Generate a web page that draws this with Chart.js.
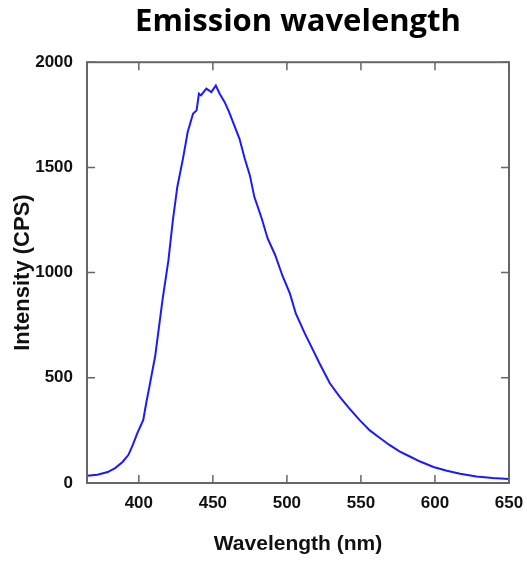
<!DOCTYPE html>
<html>
<head>
<meta charset="utf-8">
<script src="https://cdn.jsdelivr.net/npm/chart.js@4.4.1/dist/chart.umd.min.js"></script>
<style>
html,body{margin:0;padding:0;background:#fff;}
#wrap{width:527px;height:563px;}
</style>
</head>
<body>
<div id="wrap"><canvas id="c" width="527" height="563"></canvas></div>
<script>
const chartTitle = "Emission wavelength";
const xTitle = "Wavelength (nm)";
const yTitle = "Intensity (CPS)";
const xTicks = [400, 450, 500, 550, 600, 650];
const yTicks = [0, 500, 1000, 1500, 2000];
const wavelength = [365, 372, 379, 384, 389, 393, 396, 399, 403, 405, 407, 408, 411, 416, 420, 423, 426, 430, 433, 436.6, 439, 440.6, 442, 445.6, 449, 452, 454.6, 458, 461, 463.6, 468, 471.5, 475, 478, 483, 487, 492, 497, 502, 506, 512, 516.5, 522, 529, 535.6, 542, 549, 556, 562.6, 569, 576, 583, 590, 599, 608, 617, 628, 639, 650];
const intensity = [35, 39, 52, 71, 100, 134, 182, 237, 300, 380, 452, 490, 601, 870, 1059, 1249, 1407, 1549, 1668, 1755, 1771, 1850, 1842, 1874, 1858, 1889, 1850, 1810, 1763, 1715, 1636, 1542, 1462, 1360, 1257, 1162, 1085, 985, 901, 806, 712, 648, 569, 474, 411, 356, 300, 250, 215, 182, 150, 126, 102, 76, 58, 44, 31, 24, 19];

const points = wavelength.map((w, i) => ({x: w, y: intensity[i]}));
const ARIAL = "'Liberation Sans', Arial, sans-serif";

const framePlugin = {
  id: 'frame',
  afterDatasetsDraw(chart) {
    const {ctx, chartArea: a, scales} = chart;
    ctx.save();
    ctx.strokeStyle = '#666';
    ctx.lineWidth = 2;
    ctx.strokeRect(a.left, a.top, a.right - a.left, a.bottom - a.top);
    ctx.lineWidth = 1.5;
    const L = 8;
    ctx.beginPath();
    xTicks.forEach(v => {
      const px = scales.x.getPixelForValue(v);
      ctx.moveTo(px, a.bottom); ctx.lineTo(px, a.bottom - L);
      ctx.moveTo(px, a.top); ctx.lineTo(px, a.top + L);
    });
    yTicks.forEach(v => {
      const py = scales.y.getPixelForValue(v);
      ctx.moveTo(a.left, py); ctx.lineTo(a.left + L, py);
      ctx.moveTo(a.right, py); ctx.lineTo(a.right - L, py);
    });
    ctx.stroke();
    ctx.restore();
  }
};

new Chart(document.getElementById('c'), {
  type: 'line',
  data: {
    datasets: [{
      data: points,
      borderColor: '#1a1aff',
      borderWidth: 2,
      pointRadius: 0,
      tension: 0,
      fill: false
    }]
  },
  options: {
    responsive: false,
    animation: false,
    layout: {padding: {left: 0, right: 18, top: 0, bottom: 0}},
    plugins: {
      legend: {display: false},
      tooltip: {enabled: false},
      title: {
        display: true,
        text: chartTitle,
        fullSize: false,
        color: '#000',
        font: {family: "'Open Sans', sans-serif", size: 31, weight: 'bold', lineHeight: 1.2},
        padding: {top: 4, bottom: 21}
      }
    },
    scales: {
      x: {
        type: 'linear',
        min: 365,
        max: 650,
        afterBuildTicks: s => { s.ticks = xTicks.map(v => ({value: v})); },
        afterFit: s => { s.height = 80; s.paddingLeft = 0; s.paddingRight = 0; },
        grid: {display: false, drawTicks: false},
        border: {display: false},
        ticks: {color: '#111', padding: 10, callback: v => String(v), font: {family: ARIAL, size: 17, weight: 'bold'}},
        title: {display: true, text: xTitle, color: '#111', padding: {top: 0, bottom: 6}, font: {family: ARIAL, size: 21, weight: 'bold'}}
      },
      y: {
        type: 'linear',
        min: 0,
        max: 2000,
        afterBuildTicks: s => { s.ticks = yTicks.map(v => ({value: v})); },
        afterFit: s => { s.width = 87; s.paddingTop = 0; s.paddingBottom = 0; },
        grid: {display: false, drawTicks: false},
        border: {display: false},
        ticks: {color: '#111', padding: 14, callback: v => String(v), font: {family: ARIAL, size: 17, weight: 'bold'}},
        title: {display: true, text: yTitle, color: '#111', padding: {top: 10, bottom: 0}, font: {family: ARIAL, size: 22, weight: 'bold'}}
      }
    }
  },
  plugins: [framePlugin]
});
</script>
</body>
</html>
